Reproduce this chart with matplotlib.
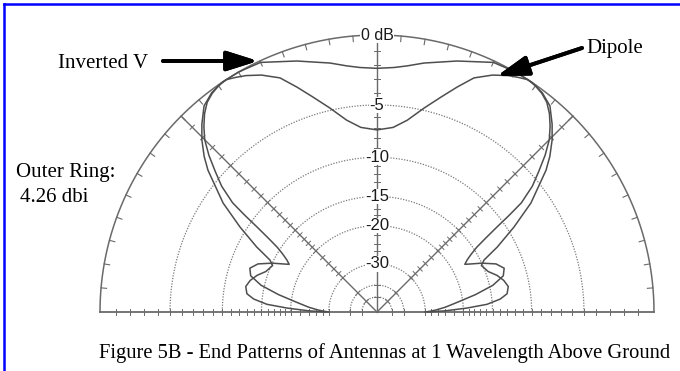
import numpy as np
import matplotlib.pyplot as plt

dipole_ang = [0, 1, 2, 4, 7, 10, 13, 16, 19, 22, 25, 27, 28.5, 30, 31.5, 33, 34.2,
              35.3, 36.2, 37.1, 39, 41, 43, 45, 47, 49, 51, 53, 55, 57, 59, 61,
              64, 67.5, 70.4, 73.4, 77, 81, 85, 90]
dipole_db = [-30, -28, -26.5, -24, -21, -17.5, -14.5, -12.8, -12.4, -13.2, -15,
             -16.5, -17.5, -16.8, -15.8, -14.5, -12.8, -10.9, -9, -7.3, -5.6,
             -4.4, -3.2, -2.2, -1.5, -0.9, -0.45, -0.2, -0.05, 0, -0.2, -0.42,
             -0.85, -1.53, -2.55, -3.62, -4.81, -6.09, -6.9, -7.2]

invv_ang = [0, 1, 2.5, 4, 6, 8, 11, 14, 17, 20, 24, 25.9, 28.4, 31.8, 35.3, 40,
            42, 44.5, 47, 50, 53, 56, 60, 62, 65, 68, 72.3, 76, 79.3, 83, 86, 90]
invv_db = [-29, -24, -19.3, -15.8, -13.8, -12.8, -12.5, -12.9, -13.6, -14.6,
           -15.2, -14.5, -12.1, -9.3, -6.6, -3.9, -3.0, -2.07, -1.3, -0.5,
           -0.15, 0, 0, -0.05, -0.1, -0.45, -0.86, -1.25, -1.53, -1.9, -2.1, -2.2]

ring_db = [-5, -10, -15, -20, -30, -40, -50]
ring_labels = ['-5', '-10', '-15', '-20', '-30']
tick_db = list(range(-1, -21, -1)) + [-22, -24, -26, -28, -30, -40, -50]

caption = 'Figure 5B - End Patterns of Antennas at 1 Wavelength Above Ground'

GRID = '#6a6a6a'
CURVE = '#4e4e4e'
SERIF = 'Liberation Serif'
SANS = 'Liberation Sans'


def arrl(db):
    # ARRL log-periodic radius: 0.89 per 2 dB
    return 0.89 ** (-np.asarray(db, dtype=float) / 2.0)


def full_pattern(ang, db):
    # the end patterns are symmetric about the zenith
    ang = np.asarray(ang, dtype=float)
    db = np.asarray(db, dtype=float)
    a = np.concatenate([ang, 180 - ang[::-1][1:]])
    d = np.concatenate([db, db[::-1][1:]])
    return np.radians(a), arrl(d)


fig = plt.figure(figsize=(6.8, 3.71), dpi=100)
ax = fig.add_axes([0, 0, 1, 1])
R = 277.0
ax.set_xlim(-377 / R, 303 / R)
ax.set_ylim(-59 / R, 312 / R)
ax.axis('off')

# outer ring and dotted dB rings
th = np.radians(np.linspace(0, 180, 361))
ax.plot(np.cos(th), np.sin(th), color=GRID, lw=1.1)
for d in ring_db:
    r = arrl(d)
    ax.plot(r * np.cos(th), r * np.sin(th), color='#7a7a7a', lw=0.9,
            linestyle=(0, (1, 1.2)))

# 5 degree ticks on the outer ring
for a in np.radians(np.arange(5, 180, 5)):
    ax.plot([np.cos(a), 0.98 * np.cos(a)], [np.sin(a), 0.98 * np.sin(a)],
            color=GRID, lw=0.8)

# baseline and radial axes with dB ticks
ax.plot([-1, 1], [0, 0], color=GRID, lw=1.3)
tl = 0.011
for a_deg in (45, 90, 135):
    a = np.radians(a_deg)
    ax.plot([0, np.cos(a)], [0, np.sin(a)], color=GRID, lw=1.0)
    for d in tick_db:
        r = arrl(d)
        cx, cy = r * np.cos(a), r * np.sin(a)
        px, py = -np.sin(a) * tl, np.cos(a) * tl
        ax.plot([cx - px, cx + px], [cy - py, cy + py], color=GRID, lw=0.7)
for d in tick_db:
    r = arrl(d)
    for s in (-1, 1):
        ax.plot([s * r, s * r], [-tl, tl], color=GRID, lw=0.7)

# patterns
for ang, db in ((invv_ang, invv_db), (dipole_ang, dipole_db)):
    a, r = full_pattern(ang, db)
    ax.plot(r * np.cos(a), r * np.sin(a), color=CURVE, lw=1.1)

# scale labels
ax.text(0, 1.0, '0 dB', ha='center', va='center', fontsize=11.5, family=SANS,
        color='#1a1a1a', bbox=dict(facecolor='white', edgecolor='none', pad=0.5))
for d, lab in zip(ring_db, ring_labels):
    ax.text(0, arrl(d), lab, ha='center', va='center', fontsize=12,
            family=SANS, color='#1a1a1a',
            bbox=dict(facecolor='white', edgecolor='none', pad=0.3))


def fx(px):
    return px / 680.0


def fy(py):
    return 1 - py / 371.0


fig.text(fx(58), fy(63), 'Inverted V', ha='left', va='center', fontsize=15,
         family=SERIF)
fig.text(fx(586), fy(48), 'Dipole', ha='left', va='center', fontsize=15,
         family=SERIF)
fig.text(fx(16), fy(173), 'Outer Ring:', ha='left', va='center', fontsize=15,
         family=SERIF)
fig.text(fx(20), fy(198), '4.26 dbi', ha='left', va='center', fontsize=15,
         family=SERIF)
fig.text(fx(99), fy(353), caption, ha='left', va='center', fontsize=14.8,
         family=SERIF)

arrow = dict(arrowstyle='-|>,head_length=1.9,head_width=0.6', lw=2.8,
             color='black', shrinkA=0, shrinkB=0, mutation_scale=10)
fig.add_artist(plt.annotate('', xy=(fx(258), fy(61)), xytext=(fx(163), fy(61)),
                            xycoords='figure fraction',
                            textcoords='figure fraction', arrowprops=arrow))
fig.add_artist(plt.annotate('', xy=(fx(497), fy(76)), xytext=(fx(582), fy(48)),
                            xycoords='figure fraction',
                            textcoords='figure fraction', arrowprops=arrow))

# blue frame on the top and left edges
ax.plot([fx(4), fx(4)], [0, fy(4)], color='#0000ff', lw=1.8,
        transform=fig.transFigure, clip_on=False)
ax.plot([fx(4), 1], [fy(4), fy(4)], color='#0000ff', lw=1.8,
        transform=fig.transFigure, clip_on=False)

fig.savefig('out.png', dpi=100)
